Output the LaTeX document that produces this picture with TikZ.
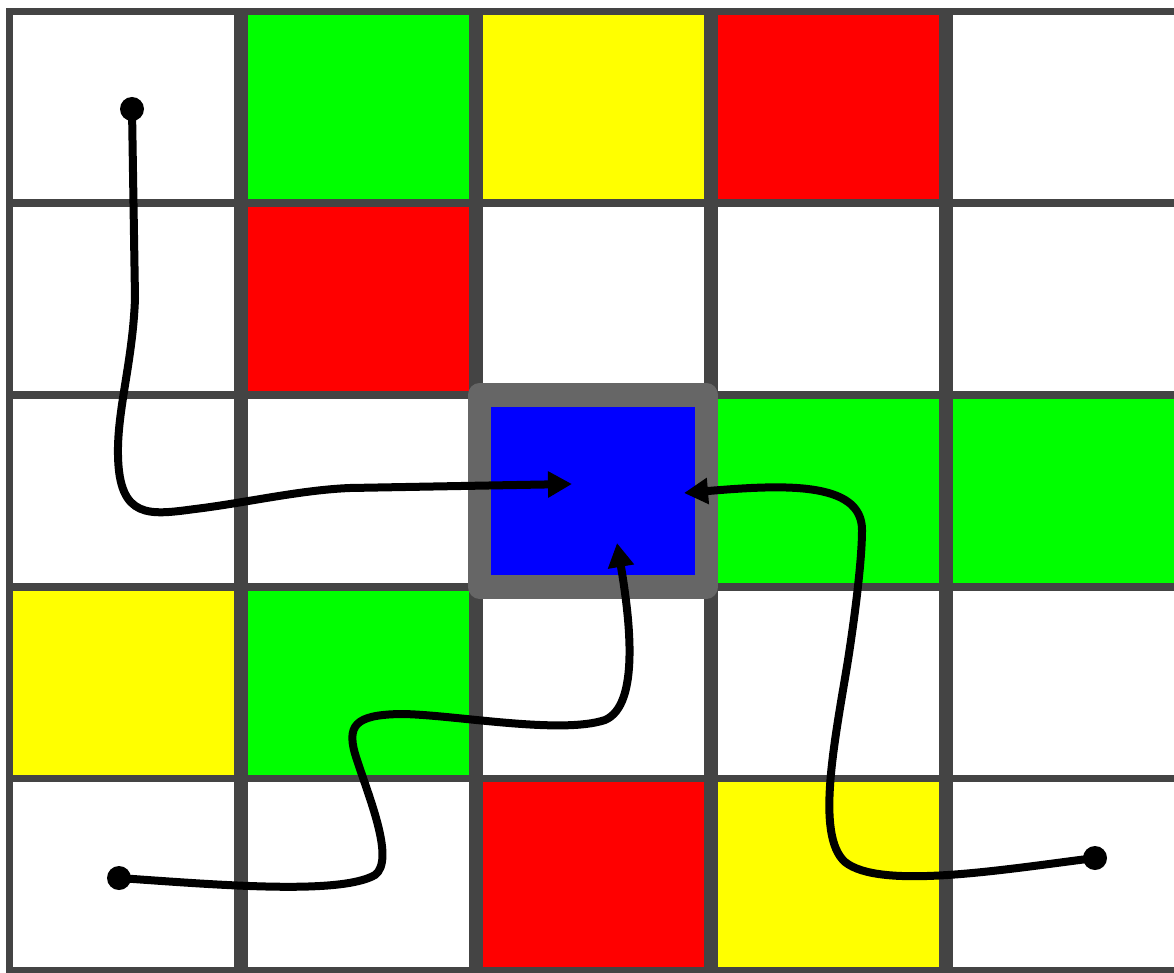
\documentclass[tikz,border=0pt]{standalone}
\usetikzlibrary{arrows.meta}
\definecolor{gridgray}{HTML}{444444}
\definecolor{framegray}{HTML}{666666}
\definecolor{cgreen}{HTML}{00FF00}
\definecolor{cyellow}{HTML}{FFFF00}
\definecolor{cred}{HTML}{FF0000}
\definecolor{cblue}{HTML}{0000FF}
\begin{document}
\begin{tikzpicture}[x=1pt,y=-1pt,
  cell/.style={draw=gridgray,line width=7.5pt,minimum width=228pt,minimum height=191.75pt,inner sep=0pt,outer sep=0pt},
  target/.style={draw=framegray,fill=cblue,line width=23.5pt,line join=round,minimum width=227pt,minimum height=191.75pt,inner sep=0pt,outer sep=0pt},
  conn/.style={line width=8pt,line join=round,-{Triangle[length=24pt,width=25pt]}},
  startdot/.style={circle,fill=black,minimum size=24pt,inner sep=0pt,outer sep=0pt}]
\useasboundingbox (0,0) rectangle (1174,973);
\clip (0,0) rectangle (1174,973);
\fill[white] (0,0) rectangle (1174,973);
% cells: column/row/colour
\foreach \i/\j/\c in {
  0/0/white,1/0/cgreen,2/0/cyellow,3/0/cred,4/0/white,
  0/1/white,1/1/cred,2/1/white,3/1/white,4/1/white,
  0/2/white,1/2/white,3/2/cgreen,4/2/cgreen,
  0/3/cyellow,1/3/cgreen,2/3/white,3/3/white,4/3/white,
  0/4/white,1/4/white,2/4/cred,3/4/cyellow,4/4/white}{
  \node[cell,fill=\c] (c\i\j) at ({123.5+235*\i},{107.375+191.75*\j}) {};
}
\node[target] (goal) at (593,490.875) {};
% start points and arrow targets
\node[startdot] (s1) at (132,109) {};
\node[startdot] (s2) at (119,878) {};
\node[startdot] (s3) at (1095,858) {};
\coordinate (t1) at (572,484);
\coordinate (t2) at (617,543);
\coordinate (t3) at (684,493);
% connectors
\draw[conn] (s1.center) -- (135,298)
  .. controls (133,360) and (117,410) .. (118,455)
  .. controls (119,520) and (150,515) .. (195,509)
  .. controls (245,503) and (300,490) .. (350,488)
  -- (t1);
\draw[conn] (s2.center)
  .. controls (220,885) and (340,895) .. (375,875)
  .. controls (395,860) and (370,800) .. (357,760)
  .. controls (345,725) and (355,715) .. (400,714)
  .. controls (450,714) and (560,735) .. (605,720)
  .. controls (640,705) and (630,620) .. (t2);
\draw[conn] (s3.center)
  .. controls (1000,870) and (880,890) .. (845,862)
  .. controls (815,835) and (835,740) .. (848,660)
  .. controls (855,615) and (862,560) .. (862,530)
  .. controls (862,480) and (780,485) .. (t3);
\end{tikzpicture}
\end{document}
